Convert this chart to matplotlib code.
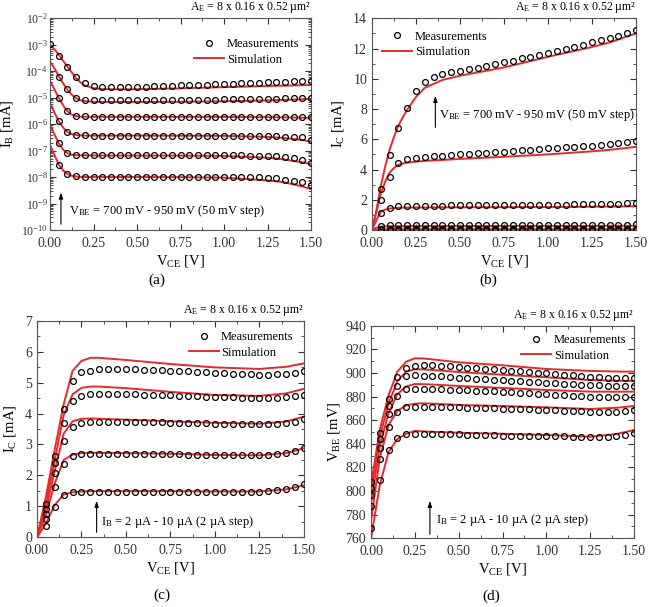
import numpy as np
import matplotlib
matplotlib.use("Agg")
import matplotlib.pyplot as plt
from matplotlib.ticker import AutoMinorLocator, LogLocator, MultipleLocator, FormatStrFormatter

plt.rcParams["font.family"] = ["Liberation Serif", "DejaVu Serif"]
plt.rcParams["mathtext.fontset"] = "custom"
plt.rcParams["mathtext.rm"] = "Liberation Serif"
plt.rcParams["mathtext.it"] = "Liberation Serif:italic"
plt.rcParams["mathtext.default"] = "regular"

RED = "#e32b2b"
nan = np.nan

# measurement grid (V_CE, V)
vce_meas = [0.0, 0.05, 0.1, 0.15, 0.2, 0.25, 0.3, 0.35, 0.4, 0.45, 0.5,
            0.55, 0.6, 0.65, 0.7, 0.75, 0.8, 0.85, 0.9, 0.95, 1.0,
            1.05, 1.1, 1.15, 1.2, 1.25, 1.3, 1.35, 1.4, 1.45, 1.5]
# simulation knots
vce_sim = [0.0, 0.025, 0.05, 0.075, 0.1, 0.125, 0.15, 0.175, 0.2, 0.25,
           0.3, 0.4, 0.5, 0.75, 1.0, 1.25, 1.35, 1.45, 1.5]
vce_sim_cd = [0.0, 0.05, 0.1, 0.15, 0.2, 0.25, 0.3, 0.35, 0.5, 0.75,
              1.0, 1.25, 1.4, 1.5]

# (a) I_B vs V_CE, V_BE = 950 ... 700 mV
ib_meas_950 = [1.05e-3, 3.8e-4, 1.4e-4, 6.3e-5, 3.6e-5, 2.8e-5, 2.5e-5, 2.5e-5, 2.5e-5,
               2.5e-5, 2.5e-5, 2.6e-5, 2.65e-5, 2.7e-5, 2.8e-5, 2.9e-5, 3.0e-5, 3.05e-5,
               3.1e-5, 3.2e-5, 3.3e-5, 3.35e-5, 3.45e-5, 3.55e-5, 3.65e-5, 3.8e-5,
               3.9e-5, 4.0e-5, 4.1e-5, 4.2e-5, 4.3e-5]
ib_meas_900 = [nan, 6.3e-5, 2.1e-5, 1.0e-5, 8.3e-6, 8.0e-6] + [7.9e-6] * 5 + \
              [8.0e-6, 8.0e-6, 8.1e-6, 8.1e-6, 8.2e-6, 8.3e-6, 8.3e-6, 8.4e-6, 8.5e-6,
               8.6e-6, 8.7e-6, 8.8e-6, 8.9e-6, 9.0e-6, 9.2e-6, 9.3e-6, 9.5e-6, 9.7e-6,
               9.8e-6, 1.0e-5]
ib_meas_850 = [nan, 9.5e-6, 3.2e-6, 2.0e-6, 1.95e-6] + [1.9e-6] * 21 + \
              [1.88e-6, 1.87e-6, 1.85e-6, 1.83e-6, 1.8e-6]
ib_meas_800 = [nan, 1.26e-6, 5.0e-7, 4.0e-7, 3.8e-7] + [3.7e-7] * 20 + \
              [3.65e-7, 3.6e-7, 3.4e-7, 3.35e-7, 3.2e-7, 2.5e-7]
ib_meas_750 = [nan, 1.9e-7, 8.0e-8, 6.8e-8] + [6.6e-8] * 19 + \
              [6.5e-8, 6.4e-8, 6.2e-8, 6.0e-8, 5.7e-8, 5.2e-8, 4.5e-8, 3.4e-8]
ib_meas_700 = [nan, 2.9e-8, 1.3e-8, 1.08e-8] + [1.05e-8] * 19 + \
              [1.02e-8, 9.8e-9, 9.5e-9, 9.0e-9, 7.9e-9, 7.2e-9, 6.3e-9, 5.0e-9]

ib_sim_950 = [1e-3, 6.8e-4, 4.3e-4, 2.5e-4, 1.5e-4, 9e-5, 5.5e-5, 3.8e-5, 2.9e-5, 2.3e-5,
              2.1e-5, 2.05e-5, 2.08e-5, 2.25e-5, 2.5e-5, 2.75e-5, 2.85e-5, 2.95e-5, 3.0e-5]
ib_sim_900 = [2.3e-4, 1.3e-4, 6.5e-5, 3.5e-5, 2.0e-5, 1.3e-5, 9.5e-6, 8e-6, 7.4e-6, 7.0e-6,
              6.9e-6, 6.9e-6, 6.9e-6, 7.0e-6, 7.3e-6, 7.9e-6, 8.3e-6, 8.7e-6, 8.9e-6]
ib_sim_850 = [4.3e-5, 2.1e-5, 1.0e-5, 5.2e-6, 3.1e-6, 2.3e-6, 2.0e-6, 1.92e-6, 1.9e-6, 1.88e-6,
              1.88e-6, 1.88e-6, 1.88e-6, 1.88e-6, 1.87e-6, 1.83e-6, 1.8e-6, 1.75e-6, 1.7e-6]
ib_sim_800 = [6.1e-6, 2.8e-6, 1.3e-6, 7.5e-7, 5.0e-7, 4.2e-7, 3.9e-7, 3.75e-7, 3.7e-7, 3.68e-7,
              3.68e-7, 3.68e-7, 3.68e-7, 3.65e-7, 3.6e-7, 3.3e-7, 3.0e-7, 2.5e-7, 2.2e-7]
ib_sim_750 = [9.3e-7, 4.2e-7, 1.9e-7, 1.1e-7, 8.0e-8, 7.0e-8, 6.7e-8, 6.6e-8, 6.6e-8, 6.55e-8,
              6.5e-8, 6.5e-8, 6.5e-8, 6.45e-8, 6.3e-8, 5.4e-8, 4.6e-8, 3.6e-8, 3.1e-8]
ib_sim_700 = [1.65e-7, 7e-8, 3.0e-8, 1.8e-8, 1.3e-8, 1.12e-8, 1.05e-8, 1.02e-8, 1.0e-8, 1.0e-8,
              1.0e-8, 1.0e-8, 1.0e-8, 9.9e-9, 9.5e-9, 7.5e-9, 6.3e-9, 4.4e-9, 3.5e-9]

# (b) I_C vs V_CE, V_BE = 950 ... 700 mV
icb_meas_950 = [nan, 2.69, 4.96, 6.72, 8.09, 9.19, 9.81, 10.14, 10.32, 10.43, 10.54, 10.63,
                10.7, 10.85, 10.95, 11.09, 11.2, 11.35, 11.45, 11.6, 11.73, 11.85, 12.0,
                12.1, 12.25, 12.41, 12.55, 12.7, 12.85, 13.05, 13.23]
icb_meas_900 = [nan, 1.98, 3.53, 4.41, 4.67, 4.78, 4.83, 4.87, 4.9, 4.95, 5.0, 5.03, 5.06,
                5.1, 5.14, 5.18, 5.22, 5.26, 5.3, 5.35, 5.4, 5.43, 5.47, 5.5, 5.54, 5.58,
                5.63, 5.68, 5.73, 5.8, 5.89]
icb_meas_850 = [nan, 1.12, 1.48, 1.57, 1.59, 1.6, 1.6, 1.61, 1.61, 1.62, 1.62, 1.63, 1.63,
                1.64, 1.64, 1.65, 1.65, 1.66, 1.66, 1.67, 1.67, 1.68, 1.68, 1.69, 1.7, 1.71,
                1.72, 1.73, 1.75, 1.77, 1.8]
icb_meas_800 = [nan, 0.24, 0.32] + [0.33] * 20 + [0.34] * 5 + [0.35, 0.36, 0.37]
icb_meas_750 = [nan] + [0.06] * 30
icb_meas_700 = [nan] + [0.01] * 30

icb_sim_950 = [0, 1.3, 2.9, 4.2, 5.3, 6.15, 6.9, 7.45, 7.95, 8.8, 9.4, 9.92, 10.2, 10.75,
               11.45, 12.1, 12.4, 12.8, 13.0]
icb_sim_900 = [0, 1.2, 2.4, 3.2, 3.8, 4.1, 4.3, 4.4, 4.45, 4.52, 4.57, 4.63, 4.7, 4.84,
               5.0, 5.2, 5.3, 5.43, 5.5]
icb_sim_850 = [0, 0.65, 1.2, 1.35, 1.42, 1.45, 1.47, 1.48, 1.48, 1.49, 1.49, 1.5, 1.5, 1.51,
               1.52, 1.54, 1.55, 1.56, 1.57]
icb_sim_800 = [0, 0.15, 0.22, 0.24, 0.25, 0.25, 0.25, 0.25, 0.25, 0.26, 0.26, 0.26, 0.26,
               0.27, 0.27, 0.27, 0.28, 0.28, 0.28]
icb_sim_750 = [0, 0.02, 0.04, 0.045, 0.05, 0.05, 0.05, 0.05, 0.05, 0.05, 0.05, 0.05, 0.05,
               0.05, 0.05, 0.05, 0.05, 0.05, 0.05]
icb_sim_700 = [0, 0.003, 0.005, 0.006, 0.006, 0.006, 0.006, 0.006, 0.006, 0.006, 0.006,
               0.006, 0.006, 0.006, 0.006, 0.006, 0.006, 0.006, 0.006]

# (c) I_C vs V_CE, I_B = 10 ... 2 uA
icc_meas_10 = [nan, 1.08, 2.64, 4.14, 5.04, 5.33, 5.39, 5.43, 5.44, 5.44, 5.44, 5.43, 5.42,
               5.41, 5.4, 5.39, 5.38, 5.37, 5.35, 5.33, 5.31, 5.3, 5.29, 5.28, 5.27, 5.26,
               5.26, 5.27, 5.29, 5.32, 5.36]
icc_meas_8 = [nan, 0.91, 2.39, 3.70, 4.39, 4.58, 4.62, 4.63, 4.63, 4.63, 4.63, 4.62, 4.61,
              4.6, 4.6, 4.59, 4.58, 4.57, 4.56, 4.55, 4.54, 4.53, 4.52, 4.51, 4.5, 4.5,
              4.5, 4.51, 4.53, 4.56, 4.61]
icc_meas_6 = [nan, 0.75, 2.07, 3.11, 3.57, 3.70, 3.72, 3.73, 3.73, 3.73, 3.73, 3.72, 3.72,
              3.71, 3.71, 3.7, 3.7, 3.69, 3.69, 3.68, 3.67, 3.67, 3.66, 3.66, 3.65, 3.65,
              3.65, 3.67, 3.7, 3.74, 3.81]
icc_meas_4 = [nan, 0.58, 1.64, 2.36, 2.63, 2.68, 2.69, 2.69, 2.69, 2.69, 2.69, 2.69, 2.69,
              2.68, 2.68, 2.68, 2.68, 2.67, 2.67, 2.67, 2.66, 2.66, 2.66, 2.66, 2.66, 2.66,
              2.67, 2.69, 2.72, 2.8, 2.87]
icc_meas_2 = [nan, 0.36, 0.97, 1.36, 1.46, 1.47] + [1.48] * 20 + [1.49, 1.53, 1.57, 1.62, 1.71]

icc_sim_10 = [0, 1.3, 2.85, 4.3, 5.38, 5.7, 5.8, 5.8, 5.73, 5.6, 5.49, 5.44, 5.51, 5.62]
icc_sim_8 = [0, 1.1, 2.5, 3.95, 4.62, 4.83, 4.87, 4.87, 4.82, 4.7, 4.6, 4.57, 4.65, 4.8]
icc_sim_6 = [0, 0.9, 2.15, 3.35, 3.75, 3.83, 3.84, 3.83, 3.8, 3.75, 3.7, 3.67, 3.74, 3.9]
icc_sim_4 = [0, 0.7, 1.75, 2.5, 2.67, 2.72, 2.73, 2.73, 2.72, 2.7, 2.66, 2.65, 2.72, 2.88]
icc_sim_2 = [0, 0.45, 1.05, 1.38, 1.46, 1.48, 1.49, 1.49, 1.49, 1.49, 1.48, 1.48, 1.55, 1.68]

# (d) V_BE vs V_CE, I_B = 10 ... 2 uA
vbe_meas_10 = [808, 849.4, 877.7, 896.3, 904.5, 906.2, 906.7, 906.5, 906, 905.5, 904.8,
               904.3, 903.8, 903.3, 903, 902.5, 902, 901.5, 900.8, 900.2, 899.7, 899.1,
               898.5, 898, 897.4, 896.8, 896.4, 896, 895.7, 895.5, 895.4]
vbe_meas_8 = [803, 844.3, 872, 889, 897.4, 898, 897.7, 897.5, 897, 896.5, 896, 895.6, 895.2,
              894.8, 894.4, 894, 893.6, 893.1, 892.7, 892.2, 891.8, 891.4, 891, 890.6,
              890.2, 889.8, 889.5, 889.2, 889, 889, 889]
vbe_meas_6 = [797, 836.2, 865, 880.5, 886.2, 886.5, 886.4, 886.2, 886, 885.8, 885.6, 885.3,
              885, 884.7, 884.4, 884.1, 883.7, 883.3, 882.9, 882.4, 881.9, 881.5, 881.1,
              880.7, 880.3, 879.9, 879.8, 879.7, 879.7, 879.8, 880]
vbe_meas_4 = [787, 826.9, 854, 866.9, 870.9, 871.4, 871.4, 871.3, 871.2, 871.1, 870.9, 870.7,
              870.5, 870.3, 870.1, 869.9, 869.7, 869.4, 869.1, 868.8, 868.6, 868.3, 868,
              867.7, 867.4, 867.2, 867.1, 867.1, 867.2, 867.6, 868.6]
vbe_meas_2 = [769, 809.4, 834.8, 844.9, 848, 848, 848, 848, 848, 848, 848, 847.8, 847.6,
              847.4, 847.2, 847, 846.9, 846.8, 846.6, 846.5, 846.4, 846.3, 846.2, 846,
              845.9, 845.8, 845.8, 846, 846.4, 847.2, 848.9]

vbe_sim_10 = [805, 852, 881, 901, 909.5, 912.4, 912.3, 911.5, 909, 906.5, 903.4, 901.7, 901.2, 901.1]
vbe_sim_8 = [800, 846, 874, 893, 901, 903.1, 903, 902.5, 900.8, 898.5, 896.3, 894, 893.4, 893.2]
vbe_sim_6 = [790, 838, 866, 882, 888.5, 890.6, 890.5, 890.2, 889, 887.3, 885.6, 884.2, 884.1, 884.2]
vbe_sim_4 = [775, 828, 856, 868, 872.5, 874, 874.3, 874, 872.9, 872, 870.9, 869.5, 870.5, 872]
vbe_sim_2 = [760, 805, 833, 844, 848.5, 850.9, 850.5, 850.2, 849.4, 848.5, 847.5, 846, 848.3, 851.7]

AREA_TEXT = "A$_{E}$ = 8 x 0.16 x 0.52 µm²"
XTICKS = [0.0, 0.25, 0.5, 0.75, 1.0, 1.25, 1.5]


def style_axes(ax):
    ax.set_xlim(0, 1.5)
    ax.set_xticks(XTICKS)
    ax.xaxis.set_major_formatter(FormatStrFormatter("%.2f"))
    ax.xaxis.set_minor_locator(AutoMinorLocator(2))
    ax.tick_params(which="both", direction="in", top=True, right=True,
                   labelsize=10, colors="#333333", labelcolor="#333333")
    ax.tick_params(axis="x", which="major", pad=5)
    ax.tick_params(which="major", length=4, width=0.8)
    ax.tick_params(which="minor", length=2, width=0.6)
    for sp in ax.spines.values():
        sp.set_color("#555555")
        sp.set_linewidth(0.8)
    ax.set_xlabel("V$_{CE}$ [V]", fontsize=10.5, labelpad=2)
    ax.text(1.0, 1.014, AREA_TEXT, transform=ax.transAxes, ha="right",
            va="bottom", fontsize=8.5)


def draw_series(ax, meas_list, sim_list, sim_x):
    for m in meas_list:
        ax.plot(vce_meas, m, "o", ms=4.2, mfc="none", mec="black", mew=0.9,
                zorder=3)
    for s in sim_list:
        ax.plot(sim_x, s, "-", color=RED, lw=1.4, zorder=2)


def add_legend(ax, loc, anchor):
    h1, = ax.plot([], [], "o", ms=4.2, mfc="none", mec="black", mew=0.9)
    h2, = ax.plot([], [], "-", color=RED, lw=1.4)
    ax.legend([h1, h2], ["Measurements", "Simulation"], loc=loc,
              bbox_to_anchor=anchor, frameon=False, fontsize=9,
              handlelength=2.4, handletextpad=0.2, labelspacing=0.3,
              borderaxespad=0.0)


def add_arrow(ax, x, y0, y1, tx, ty, label):
    ax.annotate("", xy=(x, y1), xytext=(x, y0),
                arrowprops=dict(arrowstyle="-|>,head_length=0.35,head_width=0.12",
                                color="black", lw=0.8))
    ax.text(tx, ty, label, ha="left", va="center", fontsize=9)


fig = plt.figure(figsize=(6.57, 6.07), dpi=100)

# (a)
ax_a = fig.add_axes([0.0761, 0.6211, 0.3973, 0.3488])
ax_a.set_yscale("log")
draw_series(ax_a,
            [ib_meas_950, ib_meas_900, ib_meas_850, ib_meas_800, ib_meas_750, ib_meas_700],
            [ib_sim_950, ib_sim_900, ib_sim_850, ib_sim_800, ib_sim_750, ib_sim_700],
            vce_sim)
ax_a.set_ylim(1e-10, 1e-2)
ax_a.set_yticks([1e-10, 1e-9, 1e-8, 1e-7, 1e-6, 1e-5, 1e-4, 1e-3, 1e-2])
ax_a.yaxis.set_minor_locator(LogLocator(base=10, subs=np.arange(2, 10), numticks=20))
style_axes(ax_a)
ax_a.tick_params(axis="y", which="major", labelsize=8.5, pad=1.5)
ax_a.set_ylabel("I$_{B}$ [mA]", fontsize=10.5)
ax_a.yaxis.set_label_coords(-0.135, 0.5)
add_legend(ax_a, "upper right", (0.975, 0.93))
add_arrow(ax_a, 0.063, 1.3e-10, 3.3e-9, 0.11, 5e-10,
          "V$_{BE}$ = 700 mV - 950 mV (50 mV step)")
fig.text(0.239, 0.539, "(a)", ha="center", va="center", fontsize=11)

# (b)
ax_b = fig.add_axes([0.5662, 0.6211, 0.4018, 0.3488])
draw_series(ax_b,
            [icb_meas_950, icb_meas_900, icb_meas_850, icb_meas_800, icb_meas_750, icb_meas_700],
            [icb_sim_950, icb_sim_900, icb_sim_850, icb_sim_800, icb_sim_750, icb_sim_700],
            vce_sim)
ax_b.set_ylim(0, 14)
ax_b.yaxis.set_major_locator(MultipleLocator(2))
ax_b.yaxis.set_minor_locator(MultipleLocator(1))
style_axes(ax_b)
ax_b.set_ylabel("I$_{C}$ [mA]", fontsize=10.5, labelpad=5)
add_legend(ax_b, "upper left", (0.02, 0.965))
add_arrow(ax_b, 0.36, 6.6, 9.05, 0.38, 7.6,
          "V$_{BE}$ = 700 mV - 950 mV (50 mV step)")
fig.text(0.744, 0.539, "(b)", ha="center", va="center", fontsize=11)

# (c)
ax_c = fig.add_axes([0.0563, 0.1148, 0.4064, 0.3569])
draw_series(ax_c,
            [icc_meas_10, icc_meas_8, icc_meas_6, icc_meas_4, icc_meas_2],
            [icc_sim_10, icc_sim_8, icc_sim_6, icc_sim_4, icc_sim_2],
            vce_sim_cd)
ax_c.set_ylim(0, 7)
ax_c.yaxis.set_major_locator(MultipleLocator(1))
ax_c.yaxis.set_minor_locator(MultipleLocator(0.5))
style_axes(ax_c)
ax_c.set_ylabel("I$_{C}$ [mA]", fontsize=10.5, labelpad=5)
add_legend(ax_c, "upper right", (0.98, 0.975))
add_arrow(ax_c, 0.335, 0.07, 1.27, 0.36, 0.5,
          "I$_{B}$ = 2 µA - 10 µA (2 µA step)")
fig.text(0.247, 0.019, "(c)", ha="center", va="center", fontsize=11)

# (d)
ax_d = fig.add_axes([0.5647, 0.1132, 0.4003, 0.3502])
draw_series(ax_d,
            [vbe_meas_10, vbe_meas_8, vbe_meas_6, vbe_meas_4, vbe_meas_2],
            [vbe_sim_10, vbe_sim_8, vbe_sim_6, vbe_sim_4, vbe_sim_2],
            vce_sim_cd)
ax_d.set_ylim(760, 940)
ax_d.yaxis.set_major_locator(MultipleLocator(20))
ax_d.yaxis.set_minor_locator(MultipleLocator(10))
style_axes(ax_d)
ax_d.set_ylabel("V$_{BE}$ [mV]", fontsize=10.5, labelpad=2)
add_legend(ax_d, "upper right", (0.99, 0.985))
add_arrow(ax_d, 0.336, 761, 794, 0.372, 775.5,
          "I$_{B}$ = 2 µA - 10 µA (2 µA step)")
fig.text(0.747, 0.017, "(d)", ha="center", va="center", fontsize=11)

fig.savefig("out.png", dpi=100)
plt.close(fig)
